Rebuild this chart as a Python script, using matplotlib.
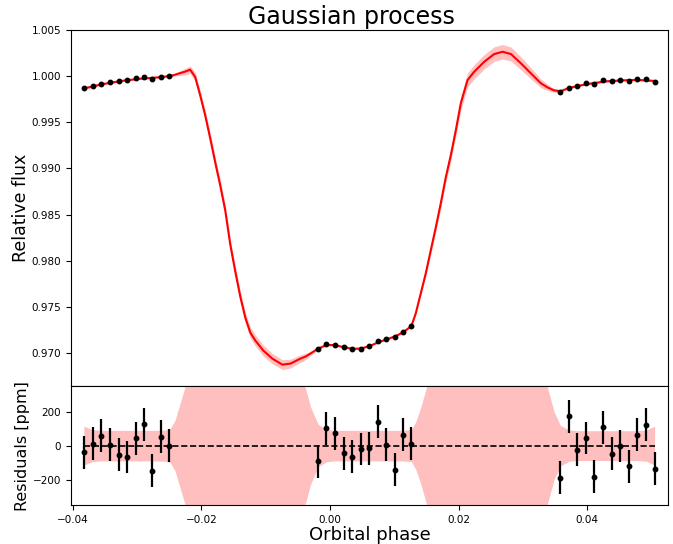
import numpy as np
import matplotlib
matplotlib.use("Agg")
import matplotlib.pyplot as plt

# observed points (orbital phase, relative flux, residuals in ppm, errors in ppm)
phase = [-0.03830, -0.03694, -0.03560, -0.03424, -0.03289, -0.03154, -0.03023,
         -0.02894, -0.02764, -0.02633, -0.02499,
         -0.00184, -0.00055, 0.00075, 0.00215, 0.00346, 0.00476, 0.00612,
         0.00746, 0.00877, 0.01006, 0.01142, 0.01267,
         0.03585, 0.03721, 0.03850, 0.03986, 0.04115, 0.04246, 0.04381,
         0.04512, 0.04646, 0.04782, 0.04911, 0.05051]
flux = [0.99867, 0.99888, 0.99916, 0.99935, 0.99946, 0.99957, 0.99978,
        0.99992, 0.99967, 0.99992, 1.00000,
        0.97047, 0.97097, 0.97093, 0.97064, 0.97042, 0.97050, 0.97079,
        0.97129, 0.97151, 0.97172, 0.97231, 0.97299,
        0.99823, 0.99877, 0.99892, 0.99921, 0.99913, 0.99953, 0.99946,
        0.99957, 0.99949, 0.99964, 0.99964, 0.99932]
resid = [-39, 10, 59, 6, -55, -67, 43, 127, -149, 53, 0,
         -92, 102, 73, -45, -65, -20, -16, 141, 4, -143, 65, 10,
         -190, 173, -25, 45, -184, 108, -47, -2, -122, 65, 122, -137]
err = [97] * len(phase)

# GP model: mean flux and 1-sigma (ppm)
model_phase = [-0.03830, -0.03705, -0.03565, -0.03424, -0.03190, -0.02956, -0.02722,
               -0.02566, -0.02488, -0.02410, -0.02332, -0.02254, -0.02176, -0.02098,
               -0.02020, -0.01942, -0.01864, -0.01786, -0.01708, -0.01630, -0.01552,
               -0.01474, -0.01396, -0.01318, -0.01240, -0.01162, -0.01037, -0.00897,
               -0.00741, -0.00616, -0.00460, -0.00382, -0.00304, -0.00184, -0.00055,
               0.00070, 0.00211, 0.00351, 0.00476, 0.00616, 0.00741, 0.00881,
               0.01006, 0.01131, 0.01267, 0.01334, 0.01412, 0.01490, 0.01568,
               0.01646, 0.01724, 0.01802, 0.01880, 0.01958, 0.02036, 0.02140,
               0.02243, 0.02399, 0.02555, 0.02686, 0.02816, 0.02972, 0.03128,
               0.03284, 0.03393, 0.03487, 0.03585, 0.03721, 0.03861, 0.04064,
               0.04298, 0.04532, 0.04766, 0.04922, 0.05051]
model_flux = [0.99868, 0.99886, 0.99910, 0.99928, 0.99953, 0.99972, 0.99984,
              0.99995, 1.00000, 1.00016, 1.00033, 1.00049, 1.00070, 0.99992,
              0.99794, 0.99577, 0.99328, 0.99067, 0.98818, 0.98547, 0.98178,
              0.97885, 0.97614, 0.97386, 0.97223, 0.97137, 0.97028, 0.96941,
              0.96876, 0.96887, 0.96941, 0.96963, 0.96996, 0.97050, 0.97088,
              0.97088, 0.97066, 0.97047, 0.97050, 0.97077, 0.97115, 0.97150,
              0.97180, 0.97223, 0.97294, 0.97430, 0.97646, 0.97863, 0.98113,
              0.98362, 0.98623, 0.98905, 0.99143, 0.99414, 0.99707, 0.99957,
              1.00047, 1.00155, 1.00239, 1.00264, 1.00239, 1.00138, 1.00029,
              0.99921, 0.99875, 0.99846, 0.99837, 0.99872, 0.99895, 0.99921,
              0.99944, 0.99954, 0.99959, 0.99954, 0.99948]
model_sigma = [115, 95, 90, 90, 90, 90, 90,
               92, 100, 150, 250, 350, 420, 480,
               530, 560, 580, 590, 600, 605, 610,
               610, 610, 605, 600, 595, 580, 560,
               530, 480, 400, 340, 230, 125, 95,
               90, 90, 90, 90, 90, 90, 90,
               90, 90, 95, 140, 225, 330, 420,
               490, 550, 600, 650, 690, 720, 750,
               770, 785, 790, 785, 760, 700, 600,
               470, 330, 200, 120, 92, 88, 88,
               88, 88, 88, 92, 115]

mp = np.array(model_phase)
mf = np.array(model_flux)
ms = np.array(model_sigma)

fig = plt.figure(figsize=(6.73, 5.44), dpi=100)
gs = fig.add_gridspec(2, 1, height_ratios=[3, 1], hspace=0,
                      left=0.1055, right=0.9926, top=0.9449, bottom=0.0717)
ax1 = fig.add_subplot(gs[0])
ax2 = fig.add_subplot(gs[1], sharex=ax1)

ax1.fill_between(mp, mf - ms * 1e-6, mf + ms * 1e-6, color='red', alpha=0.25, lw=0)
ax1.plot(mp, mf, color='red', lw=1.5)
ax1.plot(phase, flux, 'o', color='black', ms=3.2, zorder=5)
ax1.set_ylim(0.96642, 1.005)
ax1.set_ylabel('Relative flux', fontsize=12.5, labelpad=1)
ax1.set_title('Gaussian process', fontsize=17, x=0.47, pad=4)
ax1.tick_params(labelbottom=False, labelsize=7.5)

ax2.fill_between(mp, -ms, ms, color='red', alpha=0.25, lw=0)
ax2.plot([phase[0], phase[-1]], [0, 0], 'k--', lw=1.2)
ax2.errorbar(phase, resid, yerr=err, fmt='o', color='black', ms=3.2,
             elinewidth=1.6, capsize=0)
ax2.set_ylim(-350, 350)
ax2.set_xlim(-0.0403, 0.0526)
ax2.set_xlabel('Orbital phase', fontsize=13, labelpad=1)
ax2.set_ylabel('Residuals [ppm]', fontsize=11.5, labelpad=1)
ax2.tick_params(labelsize=7.5)
fig.align_ylabels([ax1, ax2])

fig.savefig('out.png', dpi=100)
